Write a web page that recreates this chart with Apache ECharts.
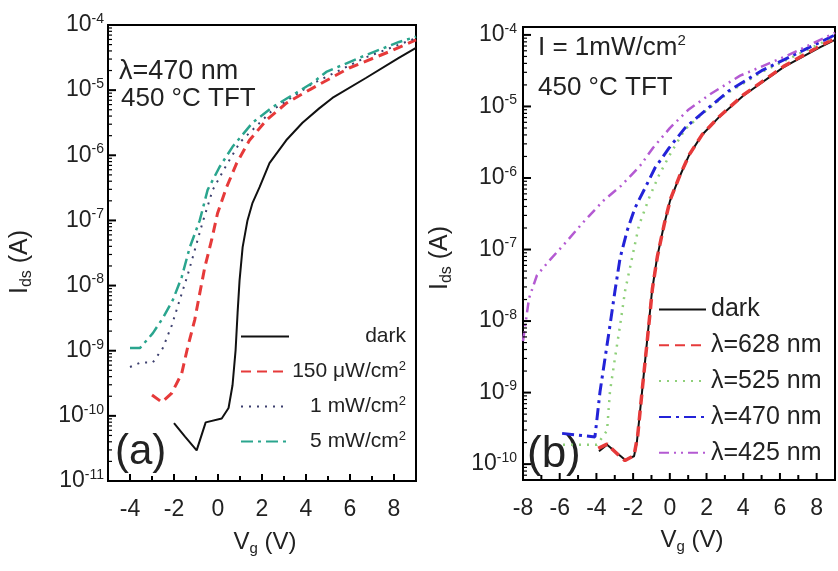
<!DOCTYPE html>
<html><head><meta charset="utf-8">
<script src="https://cdn.jsdelivr.net/npm/echarts@6/dist/echarts.min.js"></script>
<style>html,body{margin:0;padding:0;background:#fff}.c{width:419px;height:571px;float:left}</style>
</head><body><div class="c" id="ca"></div><div class="c" id="cb"></div>
<script>
const FONT = '"Liberation Sans", Arial, Helvetica, sans-serif';

// ---------- Panel (a): lambda = 470 nm, various intensities ----------
// Vg (V) and log10(Ids / A)
const vgDarkA   = [-2, -1.5, -0.97, -0.56, 0.17, 0.48, 0.66, 0.8, 0.89, 0.98, 1.12, 1.34, 1.57, 1.89, 2.34, 3.1, 3.84, 4.6, 5.2, 6.74, 8.2, 9];
const logDarkA  = [-10.11, -10.32, -10.53, -10.1, -10.04, -9.88, -9.53, -8.99, -8.42, -7.92, -7.41, -7.0, -6.73, -6.49, -6.12, -5.77, -5.5, -5.28, -5.12, -4.81, -4.51, -4.35];
const vg150A    = [-3, -2.55, -2.1, -1.65, -1.38, -1.06, -0.83, -0.6, -0.29, -0.02, 0.39, 0.85, 1.43, 2.2, 3.11, 4.24, 5.96, 7.78, 9];
const log150A   = [-9.68, -9.79, -9.65, -9.35, -8.95, -8.53, -8.12, -7.72, -7.3, -6.89, -6.49, -6.12, -5.77, -5.46, -5.2, -4.98, -4.66, -4.41, -4.23];
const vg1mA     = [-4.0, -3.5, -2.96, -2.51, -2.1, -1.74, -1.38, -1.06, -0.7, -0.24, 0.3, 1.0, 2.5, 4.3, 6.7, 9];
const log1mA    = [-9.25, -9.18, -9.18, -8.96, -8.61, -8.22, -7.84, -7.46, -7.03, -6.53, -6.2, -5.8, -5.3, -4.9, -4.5, -4.2];
const vg5mA     = [-4.0, -3.55, -2.96, -2.51, -2.05, -1.65, -1.28, -0.83, -0.47, 0.07, 0.66, 1.57, 2.48, 3.56, 4.29, 4.92, 6.74, 8.23, 9];
const log5mA    = [-8.96, -8.96, -8.73, -8.5, -8.22, -7.87, -7.41, -7.0, -6.53, -6.18, -5.87, -5.5, -5.26, -5.04, -4.89, -4.72, -4.46, -4.26, -4.18];

// ---------- Panel (b): I = 1 mW/cm2, various wavelengths ----------
const vgDarkB   = [-3.86, -3.42, -2.77, -2.44, -1.95, -1.79, -1.51, -1.24, -0.97, -0.7, -0.32, 0.01, 0.5, 1.05, 1.75, 2.68, 4.0, 6.2, 8.2, 9];
const logDarkB  = [-9.82, -9.73, -9.87, -9.94, -9.89, -9.68, -8.98, -8.28, -7.58, -7.12, -6.66, -6.32, -6.0, -5.68, -5.4, -5.15, -4.85, -4.45, -4.17, -4.07];
const vg628B    = [-3.9, -3.42, -2.77, -2.44, -1.95, -1.75, -1.5, -1.22, -0.95, -0.68, -0.3, 0.03, 0.52, 1.07, 1.77, 2.7, 4.0, 6.2, 8.2, 9];
const log628B   = [-9.78, -9.72, -9.88, -9.95, -9.88, -9.6, -8.95, -8.25, -7.55, -7.1, -6.64, -6.3, -5.98, -5.67, -5.39, -5.14, -4.84, -4.44, -4.15, -4.05];
const vg525B    = [-5.82, -3.97, -3.42, -3.26, -2.99, -2.71, -2.44, -2.06, -1.68, -1.13, -0.59, 0.12, 0.83, 1.92, 3.23, 5.0, 7.0, 9];
const log525B   = [-9.73, -9.73, -9.53, -8.98, -8.52, -8.06, -7.58, -7.12, -6.66, -6.28, -5.96, -5.62, -5.32, -5.07, -4.8, -4.52, -4.27, -4.02];
const vg470B    = [-5.87, -4.08, -3.8, -3.53, -3.26, -2.99, -2.71, -2.33, -1.9, -1.35, -0.81, -0.04, 0.83, 1.92, 3.23, 5.0, 7.0, 9];
const log470B   = [-9.57, -9.62, -8.98, -8.52, -8.06, -7.58, -7.12, -6.74, -6.42, -6.14, -5.86, -5.58, -5.3, -5.06, -4.78, -4.5, -4.25, -4.0];
const vg425B    = [-8, -7.67, -7.24, -6.58, -5.6, -4.62, -3.59, -2.66, -1.62, -0.92, 0.01, 0.99, 2.19, 3.83, 6.39, 9];
const log425B   = [-8.28, -7.68, -7.36, -7.16, -6.88, -6.59, -6.31, -6.11, -5.83, -5.58, -5.3, -5.05, -4.83, -4.57, -4.29, -3.97];

// legend names
const legendA = ['dark', '150 \u03bcW/cm2', '1 mW/cm2', '5 mW/cm2'];
const legendB = ['dark', '\u03bb=628 nm', '\u03bb=525 nm', '\u03bb=470 nm', '\u03bb=425 nm'];

// axis ranges
const xMinA = -5, xMaxA = 9, xMinB = -8, xMaxB = 9;
const yMinA = 1e-11, yMaxA = 1e-4;
const yMinB = 6.0e-11, yMaxB = 1.29e-4;

// tick positions (drawn inward through the axes' own scales)
const xTicksA      = [-4, -3, -2, -1, 0, 1, 2, 3, 4, 5, 6, 7, 8];
const xTicksB      = [-7, -6, -5, -4, -3, -2, -1, 0, 1, 2, 3, 4, 5, 6, 7, 8];
const yDecadesA    = [1e-11, 1e-10, 1e-9, 1e-8, 1e-7, 1e-6, 1e-5, 1e-4];
const yDecadesB    = [1e-11, 1e-10, 1e-9, 1e-8, 1e-7, 1e-6, 1e-5, 1e-4];
const minorFactors = [2, 3, 4, 5, 6, 7, 8, 9];

function pairs(xs, logs) { return xs.map((x, i) => [x, Math.pow(10, logs[i])]); }

function yLabel(v) { return '{b|10}{e|' + Math.round(Math.log10(v)) + '}'; }
function xLabel(v) { return (Math.round(v) % 2 === 0) ? String(v) : ''; }
const yRich = {
  b: { fontFamily: FONT, fontSize: 23, color: '#222', lineHeight: 26 },
  e: { fontFamily: FONT, fontSize: 14, color: '#222', verticalAlign: 'top', lineHeight: 14 }
};

function xAxisCfg(mn, mx) {
  return {
    type: 'value', min: mn, max: mx, interval: 1,
    axisLine: { show: true, onZero: false, lineStyle: { color: '#000', width: 2 } },
    axisTick: { show: false },
    axisLabel: { formatter: xLabel, margin: 17, fontFamily: FONT, fontSize: 23, color: '#222' },
    splitLine: { show: false }
  };
}
function yAxisCfg(mn, mx, margin, hideEdges) {
  return {
    type: 'log', logBase: 10, min: mn, max: mx, splitNumber: 7,
    axisLine: { show: true, onZero: false, lineStyle: { color: '#000', width: 2 } },
    axisTick: { show: false }, minorTick: { show: false },
    axisLabel: { formatter: yLabel, rich: yRich, margin: margin, showMinLabel: !hideEdges, showMaxLabel: !hideEdges },
    splitLine: { show: false }, minorSplitLine: { show: false }
  };
}
function legendFmt(name) {
  if (name.endsWith('cm2')) return '{t|' + name.slice(0, -1) + '}{s|2}';
  return '{t|' + name + '}';
}
function lineSeries(name, xs, logs, color, type, width) {
  return {
    name: name, type: 'line', data: pairs(xs, logs), showSymbol: false, symbol: 'none',
    lineStyle: { color: color, width: width, type: type }, itemStyle: { color: color }, z: 3
  };
}
// inward tick marks, positioned with api.coord from the axis scales
function yTickSeries(values, xAt, len, width) {
  return {
    type: 'custom', silent: true, z: 6, clip: false, tooltip: { show: false },
    data: values.map(v => [xAt, v]),
    renderItem: function (params, api) {
      const p = api.coord([api.value(0), api.value(1)]);
      return { type: 'line', shape: { x1: p[0], y1: p[1], x2: p[0] + len, y2: p[1] },
               style: { stroke: '#000', lineWidth: width } };
    }
  };
}
function xTickSeries(values, yAt, width) {
  return {
    type: 'custom', silent: true, z: 6, clip: false, tooltip: { show: false },
    data: values.map(v => [v, yAt]),
    renderItem: function (params, api) {
      const v = api.value(0);
      const len = (Math.round(v) % 2 === 0) ? 7 : 5;
      const p = api.coord([v, api.value(1)]);
      return { type: 'line', shape: { x1: p[0], y1: p[1], x2: p[0], y2: p[1] - len },
               style: { stroke: '#000', lineWidth: width } };
    }
  };
}
function minorOf(decades, mn, mx) {
  const out = [];
  decades.forEach(d => minorFactors.forEach(f => { const v = d * f; if (v > mn && v < mx) out.push(v); }));
  return out;
}
function inRange(values, mn, mx) { return values.filter(v => v >= mn * 0.999 && v <= mx * 1.001); }

function richText(x, y, text, size, extra) {
  return Object.assign({ type: 'text', x: x, y: y, style: { text: text, fill: '#222', verticalAlign: 'middle',
    rich: { a: { fontFamily: FONT, fontSize: size, lineHeight: size + 4, fill: '#222' },
            s: { fontFamily: FONT, fontSize: Math.round(size * 0.62), verticalAlign: 'bottom', lineHeight: 16, fill: '#222' },
            p: { fontFamily: FONT, fontSize: 15, verticalAlign: 'top', lineHeight: 15, fill: '#222' } } } }, extra || {});
}
function plainText(x, y, text, size) {
  return { type: 'text', x: x, y: y, style: { text: text, font: size + 'px ' + FONT, fill: '#222', verticalAlign: 'middle' } };
}

// ---------- chart (a) ----------
const optA = {
  backgroundColor: '#fff', animation: false,
  grid: { left: 108, top: 25, width: 309, height: 456, show: true, borderColor: '#000', borderWidth: 2 },
  xAxis: xAxisCfg(xMinA, xMaxA),
  yAxis: yAxisCfg(yMinA, yMaxA, 4, false),
  legend: {
    data: legendA, orient: 'vertical', left: 240, top: 326, padding: 0,
    itemWidth: 48, itemHeight: 14, itemGap: 12.5, selectedMode: false, itemStyle: { opacity: 0 },
    formatter: legendFmt,
    textStyle: { width: 112, fontFamily: FONT, fontSize: 21, color: '#222',
      rich: { t: { fontFamily: FONT, fontSize: 21, color: '#222', align: 'right', lineHeight: 24 },
              s: { fontFamily: FONT, fontSize: 13, color: '#222', align: 'right', verticalAlign: 'top', lineHeight: 13 } } }
  },
  series: [
    lineSeries('dark', vgDarkA, logDarkA, '#111', 'solid', 2),
    lineSeries(legendA[1], vg150A, log150A, '#e63a3a', [10, 6], 3),
    lineSeries(legendA[2], vg1mA, log1mA, '#3c3f6e', [2, 6], 2),
    lineSeries(legendA[3], vg5mA, log5mA, '#2aa58e', [12, 5, 3, 5], 2.5),
    yTickSeries(inRange(yDecadesA, yMinA, yMaxA), xMinA, 8, 2),
    yTickSeries(minorOf(yDecadesA, yMinA, yMaxA), xMinA, 4, 1.2),
    xTickSeries(xTicksA, yMinA, 2)
  ],
  graphic: [
    plainText(119, 72, '\u03bb=470 nm', 27),
    plainText(121, 99, '450 \u00b0C TFT', 26),
    plainText(115, 452, '(a)', 42),
    richText(20, 262, '{a|I}{s|ds}{a| (A)}', 25, { rotation: Math.PI / 2 }),
    richText(265, 542, '{a|V}{s|g}{a| (V)}', 24)
  ]
};
optA.graphic[3].style.align = 'center';
optA.graphic[4].style.align = 'center';

// ---------- chart (b) ----------
const OX = 419;
const optB = {
  backgroundColor: '#fff', animation: false,
  grid: { left: 523 - OX, top: 27, width: 312, height: 453, show: true, borderColor: '#000', borderWidth: 2 },
  xAxis: xAxisCfg(xMinB, xMaxB),
  yAxis: yAxisCfg(yMinB, yMaxB, 6, true),
  legend: {
    data: legendB, orient: 'vertical', left: 658 - OX, top: 297, padding: 0,
    itemWidth: 47, itemHeight: 14, itemGap: 10.8, selectedMode: false, itemStyle: { opacity: 0 },
    formatter: legendFmt,
    textStyle: { fontFamily: FONT, fontSize: 25, color: '#222',
      rich: { t: { fontFamily: FONT, fontSize: 25, color: '#222', lineHeight: 26 } } }
  },
  series: [
    lineSeries('dark', vgDarkB, logDarkB, '#111', 'solid', 2),
    lineSeries(legendB[1], vg628B, log628B, '#e63a3a', [10, 6], 3.5),
    lineSeries(legendB[2], vg525B, log525B, '#8fd07a', [2, 6], 2.5),
    lineSeries(legendB[3], vg470B, log470B, '#2323d8', [12, 5, 3, 5], 3),
    lineSeries(legendB[4], vg425B, log425B, '#b45ad2', [10, 5, 2, 5, 2, 5], 2.5),
    yTickSeries(inRange(yDecadesB, yMinB, yMaxB), xMinB, 8, 2),
    yTickSeries(minorOf(yDecadesB, yMinB, yMaxB), xMinB, 4, 1.2),
    xTickSeries(xTicksB, yMinB, 2)
  ],
  graphic: [
    richText(538 - OX, 48, '{a|I = 1mW/cm}{p|2}', 26),
    plainText(538 - OX, 88, '450 \u00b0C TFT', 26),
    plainText(527 - OX, 455, '(b)', 44),
    richText(440 - OX, 258, '{a|I}{s|ds}{a| (A)}', 25, { rotation: Math.PI / 2 }),
    richText(692 - OX, 540, '{a|V}{s|g}{a| (V)}', 24)
  ]
};
optB.graphic[3].style.align = 'center';
optB.graphic[4].style.align = 'center';

echarts.init(document.getElementById('ca')).setOption(optA);
echarts.init(document.getElementById('cb')).setOption(optB);
</script>
</body></html>
